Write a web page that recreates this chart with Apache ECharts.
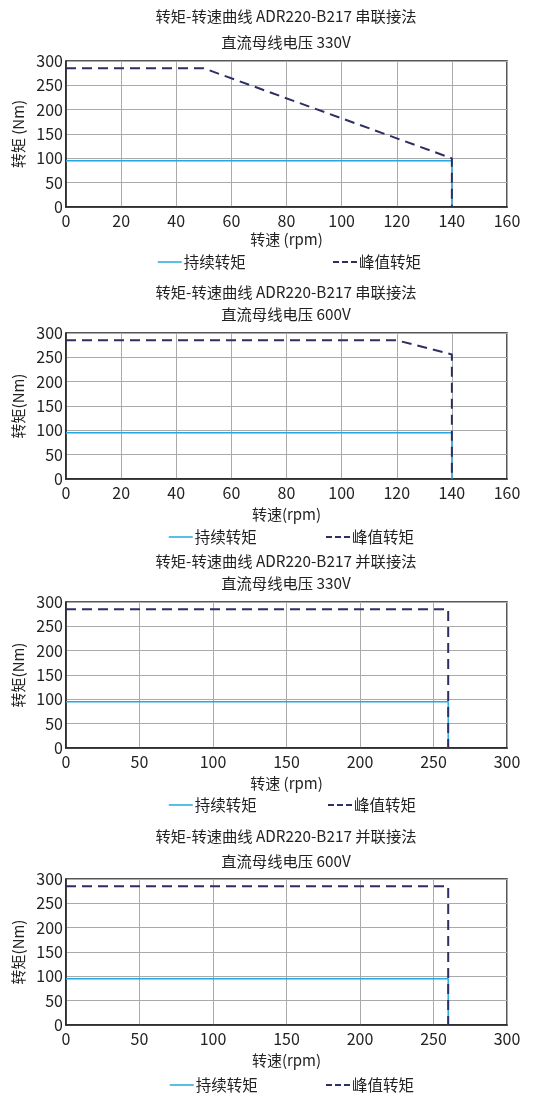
<!DOCTYPE html>
<html>
<head>
<meta charset="utf-8">
<script src="https://cdn.jsdelivr.net/npm/echarts@6/dist/echarts.min.js"></script>
<style>
  html, body { margin: 0; padding: 0; background: #fff; }
  #chart { width: 546px; height: 1093px; }
</style>
</head>
<body>
<div id="chart"></div>
<script>
// Torque-speed curves of the ADR220-B217 motor, four operating modes
const titleLine1 = [
  '转矩-转速曲线 ADR220-B217 串联接法',
  '转矩-转速曲线 ADR220-B217 串联接法',
  '转矩-转速曲线 ADR220-B217 并联接法',
  '转矩-转速曲线 ADR220-B217 并联接法'
];
const titleLine2 = ['直流母线电压 330V', '直流母线电压 600V', '直流母线电压 330V', '直流母线电压 600V'];
const xNames = ['转速 (rpm)', '转速(rpm)', '转速 (rpm)', '转速(rpm)'];
const yNames = ['转矩 (Nm)', '转矩(Nm)', '转矩(Nm)', '转矩(Nm)'];
const xMax = [160, 160, 300, 300];
const xStep = [20, 20, 50, 50];
const legendNames = ['持续转矩', '峰值转矩'];

// continuous torque: [speed, torque] points
const contSeries330 = [[0, 95], [140, 95], [140, 0]];
const contSeries600 = [[0, 95], [140, 95], [140, 0]];
const contParallel330 = [[0, 95], [260, 95], [260, 0]];
const contParallel600 = [[0, 95], [260, 95], [260, 0]];

// peak torque: [speed, torque] points
const peakSeries330 = [[0, 285], [50, 285], [140, 100], [140, 0]];
const peakSeries600 = [[0, 285], [120, 285], [140, 256], [140, 0]];
const peakParallel330 = [[0, 285], [260, 285], [260, 0]];
const peakParallel600 = [[0, 285], [260, 285], [260, 0]];

const contData = [contSeries330, contSeries600, contParallel330, contParallel600];
const peakData = [peakSeries330, peakSeries600, peakParallel330, peakParallel600];

// layout of the four panels
const gridTops = [61, 333, 602, 879];
const gridH = 146;
const title1Y = [16, 292, 561, 836];   // vertical centre of first title line
const title2Y = [42, 314, 583, 861];   // vertical centre of second title line
const legendY = [262, 537, 805, 1085]; // vertical centre of legend row
const legendX1 = [157, 168, 168, 169];
const legendX2 = [332, 325, 327, 325];
const xNameGap = [25, 28, 28, 28];
const yNameGap = [40, 34, 34, 34];

const FONT = '"Noto Sans CJK SC", "Noto Sans", sans-serif';
const BLUE = '#25a8e0';
const NAVY = '#2d2f62';

const option = {
  animation: false,
  backgroundColor: '#fff',
  textStyle: { fontFamily: FONT },
  title: [], grid: [], xAxis: [], yAxis: [], legend: [], series: []
};

function titleItem(text, cy) {
  return {
    text: text, left: 286, top: cy - 10, padding: 0, textAlign: 'center',
    textStyle: { fontFamily: FONT, fontSize: 15.3, fontWeight: 'normal', color: '#222', lineHeight: 20 }
  };
}

function legendItem(name, x, cy, dash) {
  return {
    data: [name], left: x, top: cy - 10, padding: 0,
    itemWidth: 24, itemHeight: 20, itemGap: 0,
    itemStyle: { opacity: 0 },
    lineStyle: dash ? { type: [6, 3], width: 2 } : { width: 1.5 },
    textStyle: { fontFamily: FONT, fontSize: 15.5, color: '#222', lineHeight: 20, padding: [0, 0, 0, -3] },
    selectedMode: false
  };
}

for (let i = 0; i < 4; i++) {
  option.title.push(titleItem(titleLine1[i], title1Y[i]));
  option.title.push(titleItem(titleLine2[i], title2Y[i]));
  option.grid.push({
    left: 66, width: 441, top: gridTops[i], height: gridH,
    show: true, borderColor: '#222', borderWidth: 1.5, backgroundColor: 'transparent'
  });
  option.xAxis.push({
    type: 'value', gridIndex: i, min: 0, max: xMax[i], interval: xStep[i],
    name: xNames[i], nameLocation: 'middle', nameGap: xNameGap[i],
    nameTextStyle: { fontFamily: FONT, fontSize: 15, color: '#222' },
    axisLine: { show: true, lineStyle: { color: '#222', width: 1.5 } },
    axisTick: { show: false },
    axisLabel: { fontFamily: FONT, fontSize: 16, color: '#222', margin: 6 },
    splitLine: { show: true, lineStyle: { color: '#aaa', width: 1 } }
  });
  option.yAxis.push({
    type: 'value', gridIndex: i, min: 0, max: 300, interval: 50,
    name: yNames[i], nameLocation: 'middle', nameGap: yNameGap[i], nameRotate: 90,
    nameTextStyle: { fontFamily: FONT, fontSize: 15, color: '#222' },
    axisLine: { show: true, lineStyle: { color: '#222', width: 1.5 } },
    axisTick: { show: false },
    axisLabel: { fontFamily: FONT, fontSize: 16, color: '#222', margin: 3 },
    splitLine: { show: true, lineStyle: { color: '#aaa', width: 1 } }
  });
  option.legend.push(legendItem(legendNames[0], legendX1[i], legendY[i], false));
  option.legend.push(legendItem(legendNames[1], legendX2[i], legendY[i], true));
  option.series.push({
    name: legendNames[0], type: 'line', xAxisIndex: i, yAxisIndex: i,
    data: contData[i], symbol: 'none', showSymbol: false,
    lineStyle: { color: BLUE, width: 1.5 }, itemStyle: { color: BLUE }, z: 3
  });
  option.series.push({
    name: legendNames[1], type: 'line', xAxisIndex: i, yAxisIndex: i,
    data: peakData[i], symbol: 'none', showSymbol: false,
    lineStyle: { color: NAVY, width: 2, type: [10, 6] }, itemStyle: { color: NAVY }, z: 4
  });
}

const chart = echarts.init(document.getElementById('chart'), null, { renderer: 'canvas' });
chart.setOption(option);
</script>
</body>
</html>
